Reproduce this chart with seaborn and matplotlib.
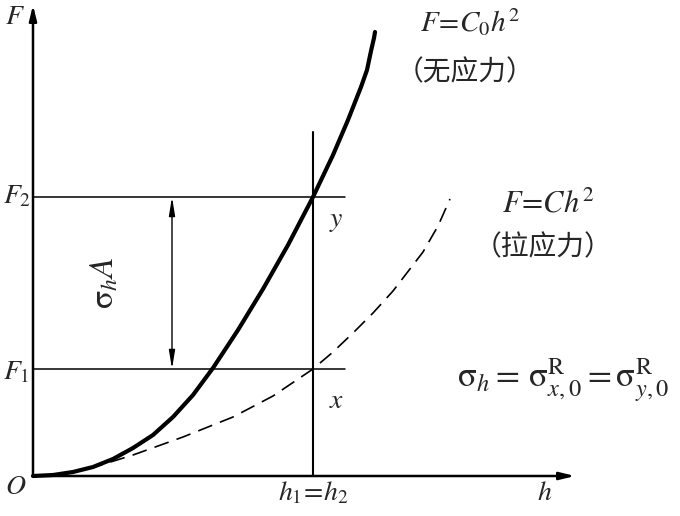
import matplotlib
matplotlib.use("Agg")
import matplotlib.pyplot as plt
import seaborn as sns
import pandas as pd

# values (h, F in picture units, origin at O)
h_free = [0, 20, 40, 60, 80, 100, 120, 140, 160, 180, 205, 230, 255, 280, 300, 315, 328, 334, 338, 341, 342]
F_free = [0, 1, 4, 9, 17, 28, 41, 59, 81, 108, 146, 187, 231, 279, 321, 356, 389, 406, 425, 438, 444]

h_tens = [55, 100, 150, 200, 240, 280, 300, 320, 340, 360, 390, 405, 417]
F_tens = [7, 21, 39, 59, 80, 107, 124, 143, 163, 185, 224, 250, 277]

F1 = 107
F2 = 279
h12 = 280
h_max = 542
F_max = 471

free = pd.DataFrame({"h": h_free, "F": F_free})
tens = pd.DataFrame({"h": h_tens, "F": F_tens})

sns.set_style("white")
plt.rcParams["mathtext.fontset"] = "stix"
plt.rcParams["font.family"] = ["Liberation Serif", "Noto Sans CJK SC"]

fig = plt.figure(figsize=(6.8, 5.16), dpi=100)
ax = fig.add_axes([0, 0, 1, 1])
ax.set_xlim(-33, 647)
ax.set_ylim(-40, 476)
ax.axis("off")

sns.lineplot(data=free, x="h", y="F", ax=ax, color="black", lw=3.0,
             sort=False, estimator=None)
sns.lineplot(data=tens, x="h", y="F", ax=ax, color="black", lw=1.2,
             sort=False, estimator=None)
ax.lines[-1].set_dashes([9, 5])

# axes with arrows
arr = dict(arrowstyle="-|>,head_length=0.9,head_width=0.22", color="black", lw=1.8,
           shrinkA=0, shrinkB=0)
ax.annotate("", xy=(0, F_max), xytext=(0, 0), arrowprops=arr)
ax.annotate("", xy=(h_max, 0), xytext=(0, 0), arrowprops=arr)

# guide lines
ax.plot([0, h12 + 32], [F1, F1], color="black", lw=1.1)
ax.plot([0, h12 + 32], [F2, F2], color="black", lw=1.1)
ax.plot([h12, h12], [0, F2 + 65], color="black", lw=1.5)

# double arrow sigma_h A
darr = dict(arrowstyle="<|-|>,head_length=1.1,head_width=0.18", color="black", lw=1.0,
            shrinkA=0, shrinkB=0)
ax.annotate("", xy=(139, F2), xytext=(139, F1), arrowprops=darr)

fs = 20
cjk = ["Noto Sans CJK SC"]
ax.text(-18, 458, "$F$", fontsize=fs, ha="center", va="center")
ax.text(-17, -12, "$O$", fontsize=fs, ha="center", va="center")
ax.text(-30, F2, "$F_2$", fontsize=fs, ha="left", va="center")
ax.text(-30, F1 - 4, "$F_1$", fontsize=fs, ha="left", va="center")
ax.text(437, 454, "$F\\!=\\!C_0h^2$", fontsize=21, ha="center", va="center")
ax.text(432, 404, "（无应力）", fontsize=20, ha="center", va="center", family=cjk)
ax.text(515, 271, "$F\\!=\\!Ch^2$", fontsize=22, ha="center", va="center")
ax.text(510, 229, "（拉应力）", fontsize=20, ha="center", va="center", family=cjk)
ax.text(303, 254, "$y$", fontsize=fs, ha="center", va="center")
ax.text(304, 74, "$x$", fontsize=fs, ha="center", va="center")
ax.text(72, 193, "$\\mathrm{\\sigma}_hA$", fontsize=24, ha="center", va="center",
        rotation=90)
ax.text(530, 96, "$\\mathrm{\\sigma}_h=\\,\\mathrm{\\sigma}^{\\mathrm{R}}_{x,0}=\\mathrm{\\sigma}^{\\mathrm{R}}_{y,0}$",
        fontsize=25, ha="center", va="center")
ax.text(h12, -17, "$h_1\\!=\\!h_2$", fontsize=fs, ha="center", va="center")
ax.text(512, -17, "$h$", fontsize=fs, ha="center", va="center")

fig.savefig("out.png", dpi=100)
